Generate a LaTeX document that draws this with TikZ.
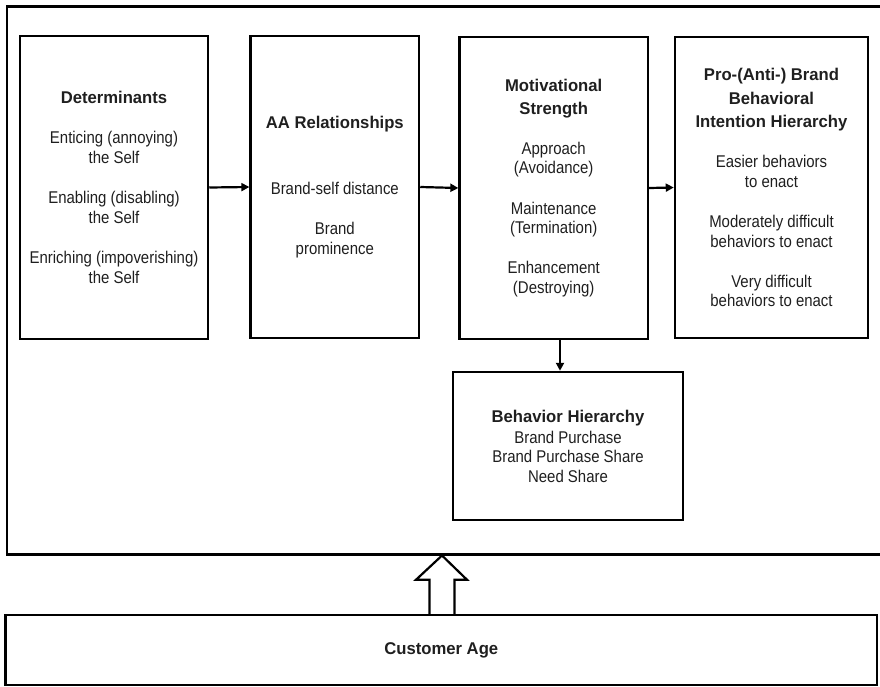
\documentclass[tikz,border=0pt]{standalone}
\usepackage{fontspec}
\setmainfont{Liberation Sans}[FakeStretch=0.88, BoldFeatures={FakeStretch=0.98}]
\usetikzlibrary{arrows.meta,calc}
\tikzset{
  boxnode/.style={draw=black, line width=2.5pt, rectangle, inner sep=0pt, align=center,
    font=\fontsize{17}{19.5}\selectfont, text=black!88},
  arr/.style={line width=2.2pt, -{Triangle[length=8pt,width=8pt]}},
  hollow/.style={line width=2.2pt, line join=miter}
}
\begin{document}
\begin{tikzpicture}[x=1pt,y=-1pt]
\useasboundingbox (0,0) rectangle (880,687);
% outer frame (right side runs off the picture)
\node[boxnode, minimum width=876.4pt, minimum height=547.7pt, anchor=north west] (outer) at (5.6,5.3) {};
% customer age
\node[boxnode, minimum width=871.4pt, minimum height=70pt] (cust) at (441.3,650) {\textbf{Customer Age}};
% top row
\node[boxnode, minimum width=188pt, minimum height=303pt] (det) at (114,187.5)
  {\textbf{Determinants}\\[20.5pt]Enticing (annoying)\\the Self\\[21pt]Enabling (disabling)\\the Self\\[21pt]Enriching (impoverishing)\\the Self};
\node[boxnode, minimum width=168.4pt, minimum height=302pt] (aa) at (334.8,187)
  {\textbf{AA Relationships}\\[46.5pt]Brand-self distance\\[20.5pt]Brand\\prominence};
\node[boxnode, minimum width=188.2pt, minimum height=302pt] (mot) at (553.7,188)
  {\textbf{Motivational}\\[3pt]\textbf{Strength}\\[20.5pt]Approach\\(Avoidance)\\[21pt]Maintenance\\(Termination)\\[20.5pt]Enhancement\\(Destroying)};
\node[boxnode, minimum width=193pt, minimum height=301pt] (pro) at (771.5,187.5)
  {\textbf{Pro-(Anti-) Brand}\\[4pt]\textbf{Behavioral}\\[4pt]\textbf{Intention Hierarchy}\\[20.5pt]Easier behaviors\\to enact\\[21pt]Moderately difficult\\behaviors to enact\\[20.5pt]Very difficult\\behaviors to enact};
\node[boxnode, minimum width=230pt, minimum height=148pt] (beh) at (568,446)
  {\textbf{Behavior Hierarchy}\\[1.5pt]Brand Purchase\\Brand Purchase Share\\Need Share};
% connectors
\draw[arr] (det.east) -- (aa.west);
\draw[arr] (aa.east) -- (mot.west);
\draw[arr] (mot.east) -- (pro.west);
\coordinate (dtop) at ($(mot.south)+(6.3,0)$);
\draw[arr] (dtop) -- (dtop |- beh.north);
% hollow block arrow from customer age to the frame
\coordinate (tip) at (442,0 |- outer.south);
\coordinate (base) at (442,0 |- cust.north);
\draw[hollow] ($(base)+(-12.5,0)$) -- ($(base)+(-12.5,-34)$) -- ($(base)+(-26,-34)$) -- (tip)
  -- ($(base)+(25,-34)$) -- ($(base)+(12.5,-34)$) -- ($(base)+(12.5,0)$);
\end{tikzpicture}
\end{document}
